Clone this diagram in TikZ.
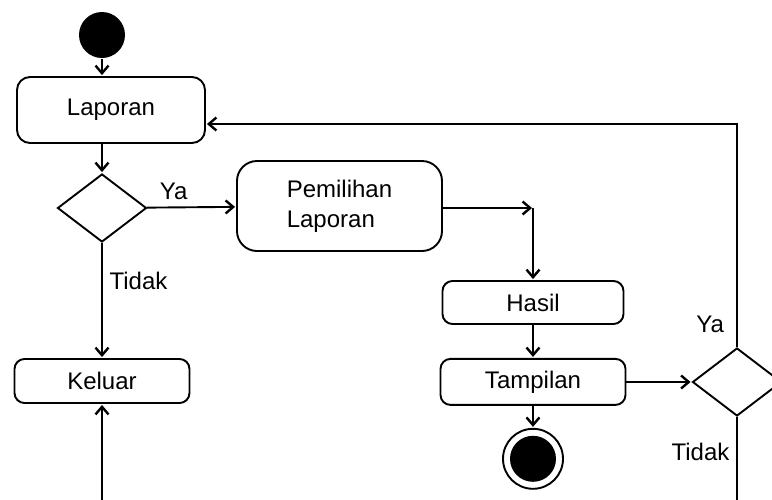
\documentclass[tikz,border=0pt]{standalone}
\usepackage{fontspec}
\setmainfont{Liberation Sans}
\usetikzlibrary{arrows.meta, positioning, shapes.geometric}
\tikzstyle{flow}=[line width=0.95pt, shorten >=0.5pt, >={Straight Barb[length=3.8pt,width=6.5pt,line width=1.2pt]}, font=\fontsize{12}{15}\selectfont, auto]
\tikzstyle{activity}=[draw, rounded corners=5pt, align=center, inner sep=0pt]
\tikzstyle{decision}=[draw, diamond, minimum width=44.5pt, minimum height=34pt, inner sep=0pt]
\tikzstyle{startdot}=[circle, fill, minimum size=23pt, inner sep=0pt]
\tikzstyle{enddot}=[circle, draw, minimum size=30pt, inner sep=0pt, path picture={\fill (path picture bounding box.center) circle (11.5pt);}]

\begin{document}
\begin{tikzpicture}[flow, x=0.5pt, y=-0.5pt]
  \clip (0,0) rectangle (772,499);
  \node[startdot] (start) at (102,35) {};
  \node[activity, rounded corners=6.5pt, minimum width=94pt, minimum height=33pt] (laporan) at (111,110) {Laporan};
  \node[decision] (d1) at (102,208) {};
  \node[activity, rounded corners=10pt, minimum width=102.5pt, minimum height=45pt, align=left] (pemilihan) at (339.5,206) {Pemilihan\\Laporan};
  \coordinate (j1) at (533,208);
  \node[activity, minimum width=90.5pt, minimum height=21.5pt] (hasil) at (533,302.5) {Hasil};
  \node[activity, minimum width=92.5pt, minimum height=23pt] (tampilan) [below=16.5pt of hasil] {Tampilan};
  \node[enddot] (end) [below=11pt of tampilan] {};
  \node[decision] (d2) at (737,382) {};
  \coordinate (back) at (737,124);
  \coordinate (out2) at (737,505);
  \node[activity, minimum width=87.5pt, minimum height=22pt] (keluar) at (102,381) {Keluar};
  \coordinate (out1) at (102,505);
  \path[->] (start) edge (start |- laporan.north);
  \path[->] (laporan.south -| d1) edge (d1);
  \path[->] (d1) edge node[pos=0.3] {Ya} (pemilihan);
  \path[->] (d1) edge node[pos=0.33] {Tidak} (keluar);
  \path[->] (pemilihan.east |- j1) edge (j1);
  \path[->] (j1) edge (hasil);
  \path[->] (hasil) edge (tampilan);
  \path[->] (tampilan) edge (end);
  \path[->] (tampilan.east |- d2) edge (d2);
  \draw[->] (d2) -- node[pos=0.1, left, inner sep=6pt] {Ya} (back) -- (laporan.east |- back);
  \draw (d2) -- node[pos=0.4, left] {Tidak} (out2);
  \path[->] (out1) edge (keluar);
\end{tikzpicture}
\end{document}
